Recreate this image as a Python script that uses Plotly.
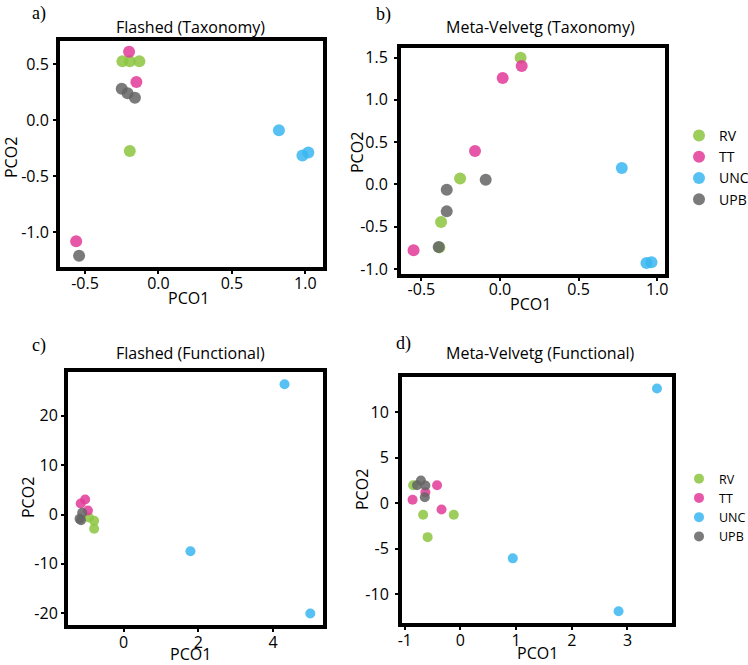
import plotly.graph_objects as go

W, H = 748, 665

groups = ["RV", "TT", "UNC", "UPB"]
colors = {"RV": "rgb(140,198,63)", "TT": "rgb(226,58,152)", "UNC": "rgb(56,182,240)", "UPB": "rgb(100,100,100)"}

# Panel a: Flashed (Taxonomy)
a_RV_x = [-0.245, -0.195, -0.13, -0.195]
a_RV_y = [0.525, 0.525, 0.525, -0.275]
a_TT_x = [-0.20, -0.15, -0.56]
a_TT_y = [0.61, 0.34, -1.08]
a_UNC_x = [0.82, 0.98, 1.02]
a_UNC_y = [-0.09, -0.315, -0.29]
a_UPB_x = [-0.25, -0.21, -0.16, -0.54]
a_UPB_y = [0.28, 0.24, 0.20, -1.21]

# Panel b: Meta-Velvetg (Taxonomy)
b_RV_x = [0.131, -0.254, -0.375, -0.386]
b_RV_y = [1.50, 0.071, -0.445, -0.745]
b_TT_x = [0.138, 0.017, -0.159, -0.55]
b_TT_y = [1.40, 1.26, 0.394, -0.78]
b_UNC_x = [0.775, 0.932, 0.964]
b_UNC_y = [0.193, -0.93, -0.92]
b_UPB_x = [-0.091, -0.339, -0.339, -0.39]
b_UPB_y = [0.055, -0.063, -0.319, -0.74]

# Panel c: Flashed (Functional)
c_RV_x = [-0.93, -0.79, -0.79]
c_RV_y = [-0.6, -1.28, -2.9]
c_TT_x = [-1.15, -1.03, -0.955]
c_TT_y = [2.23, 3.04, 0.81]
c_UNC_x = [4.31, 1.79, 5.0]
c_UNC_y = [26.4, -7.43, -20.07]
c_UPB_x = [-1.11, -1.18, -1.14]
c_UPB_y = [0.34, -0.88, -1.15]

# Panel d: Meta-Velvetg (Functional)
d_RV_x = [-0.85, -0.67, -0.12, -0.59]
d_RV_y = [1.98, -1.28, -1.28, -3.74]
d_TT_x = [-0.86, -0.42, -0.63, -0.34]
d_TT_y = [0.37, 1.98, 1.21, -0.70]
d_UNC_x = [3.53, 0.94, 2.84]
d_UNC_y = [12.64, -6.08, -11.9]
d_UPB_x = [-0.78, -0.71, -0.63, -0.64]
d_UPB_y = [1.98, 2.49, 1.94, 0.66]

titles = ["Flashed (Taxonomy)", "Meta-Velvetg (Taxonomy)", "Flashed (Functional)", "Meta-Velvetg (Functional)"]
letters = ["a)", "b)", "c)", "d)"]
x_title = "PCO1"
y_title = "PCO2"

tax_xticks = [-0.5, 0.0, 0.5, 1.0]
tax_xtext = ["-0.5", "0.0", "0.5", "1.0"]
a_yticks = [-1.0, -0.5, 0.0, 0.5]
a_ytext = ["-1.0", "-0.5", "0.0", "0.5"]
b_yticks = [-1.0, -0.5, 0.0, 0.5, 1.0, 1.5]
b_ytext = ["-1.0", "-0.5", "0.0", "0.5", "1.0", "1.5"]
c_xticks = [0, 2, 4]
c_xtext = ["0", "2", "4"]
c_yticks = [-20, -10, 0, 10, 20]
c_ytext = ["-20", "-10", "0", "10", "20"]
d_xticks = [-1, 0, 1, 2, 3]
d_xtext = ["-1", "0", "1", "2", "3"]
d_yticks = [-10, -5, 0, 5, 10]
d_ytext = ["-10", "-5", "0", "5", "10"]

data = {
    "a": {"RV": (a_RV_x, a_RV_y), "TT": (a_TT_x, a_TT_y), "UNC": (a_UNC_x, a_UNC_y), "UPB": (a_UPB_x, a_UPB_y)},
    "b": {"RV": (b_RV_x, b_RV_y), "TT": (b_TT_x, b_TT_y), "UNC": (b_UNC_x, b_UNC_y), "UPB": (b_UPB_x, b_UPB_y)},
    "c": {"RV": (c_RV_x, c_RV_y), "TT": (c_TT_x, c_TT_y), "UNC": (c_UNC_x, c_UNC_y), "UPB": (c_UPB_x, c_UPB_y)},
    "d": {"RV": (d_RV_x, d_RV_y), "TT": (d_TT_x, d_TT_y), "UNC": (d_UNC_x, d_UNC_y), "UPB": (d_UPB_x, d_UPB_y)},
}

FONT = "Open Sans"

# pixel boxes (left, right, top, bottom)
boxes = {
    "a": (60, 323, 41, 267),
    "b": (401, 665, 48, 274),
    "c": (68, 323, 372, 625),
    "d": (402, 672, 377, 623),
}
ranges = {
    "a": ([-0.67, 1.12], [-1.31, 0.705]),
    "b": ([-0.63, 1.05], [-1.06, 1.614]),
    "c": ([-1.49, 5.34], [-22.4, 28.9]),
    "d": ([-1.05, 3.80], [-13.2, 13.9]),
}
ticks = {
    "a": (tax_xticks, tax_xtext, a_yticks, a_ytext),
    "b": (tax_xticks, tax_xtext, b_yticks, b_ytext),
    "c": (c_xticks, c_xtext, c_yticks, c_ytext),
    "d": (d_xticks, d_xtext, d_yticks, d_ytext),
}
# text placement in pixels
title_pos = {"a": (190, 27), "b": (540, 27), "c": (190, 353), "d": (540, 353)}
letter_pos = {"a": (39, 14), "b": (383, 15), "c": (39, 345), "d": (403, 343)}
xtitle_pos = {"a": (188, 298), "b": (530, 304), "c": (190, 654), "d": (537, 653)}
ytitle_pos = {"a": (11, 158), "b": (357, 153), "c": (28, 497), "d": (362, 490)}
ystandoff = {"a": 1, "b": 3, "c": 0, "d": 3}
xstandoff = {"a": -4, "b": -5, "c": -3, "d": -3}

fig = go.Figure()
layout = {}
annotations = []
for i, p in enumerate(["a", "b", "c", "d"]):
    n = i + 1
    xa = "x" if n == 1 else f"x{n}"
    ya = "y" if n == 1 else f"y{n}"
    msize = 12 if p in ("a", "b") else 10
    for g in groups:
        xs, ys = data[p][g]
        show = p in ("b", "d")
        fig.add_trace(go.Scatter(
            x=xs, y=ys, mode="markers", name=g,
            marker=dict(color=colors[g], size=msize, opacity=0.85, line=dict(width=0)),
            xaxis=xa, yaxis=ya, showlegend=show,
            legend="legend" if p == "b" else ("legend2" if p == "d" else None),
        ))
    l, r, t, b = boxes[p]
    xr, yr = ranges[p]
    xt, xtt, yt, ytt = ticks[p]
    axkw = dict(showline=True, linewidth=4, linecolor="black", mirror=True,
                showgrid=False, zeroline=False, ticks="outside", ticklen=3,
                tickwidth=1.5, tickcolor="black",
                tickfont=dict(family=FONT, size=16, color="black"))
    layout["xaxis" if n == 1 else f"xaxis{n}"] = dict(
        domain=[l / W, r / W], range=xr, anchor=ya, tickvals=xt, ticktext=xtt,
        ticklabelstandoff=xstandoff[p], **axkw)
    layout["yaxis" if n == 1 else f"yaxis{n}"] = dict(
        domain=[1 - b / H, 1 - t / H], range=yr, anchor=xa, tickvals=yt, ticktext=ytt,
        ticklabelstandoff=ystandoff[p], **axkw)
    tx, ty = title_pos[p]
    annotations.append(dict(text=titles[i], x=tx / W, y=1 - ty / H, xref="paper", yref="paper",
                            xanchor="center", yanchor="middle", showarrow=False,
                            font=dict(family=FONT, size=16, color="black")))
    lx, ly = letter_pos[p]
    annotations.append(dict(text=letters[i], x=lx / W, y=1 - ly / H, xref="paper", yref="paper",
                            xanchor="center", yanchor="middle", showarrow=False,
                            font=dict(family="Liberation Serif", size=18, color="black")))
    px_, py_ = xtitle_pos[p]
    annotations.append(dict(text=x_title, x=px_ / W, y=1 - py_ / H, xref="paper", yref="paper",
                            xanchor="center", yanchor="middle", showarrow=False,
                            font=dict(family=FONT, size=16, color="black")))
    qx, qy = ytitle_pos[p]
    annotations.append(dict(text=y_title, x=qx / W, y=1 - qy / H, xref="paper", yref="paper",
                            xanchor="center", yanchor="middle", showarrow=False, textangle=-90,
                            font=dict(family=FONT, size=16, color="black")))

fig.update_layout(
    width=W, height=H, margin=dict(l=0, r=0, t=0, b=0, autoexpand=False),
    paper_bgcolor="white", plot_bgcolor="white",
    annotations=annotations,
    legend=dict(x=679 / W, y=1 - 120 / H, xanchor="left", yanchor="top",
                font=dict(family=FONT, size=14, color="black"), bgcolor="rgba(0,0,0,0)",
                itemwidth=30),
    legend2=dict(x=679 / W, y=1 - 464 / H, xanchor="left", yanchor="top",
                 font=dict(family=FONT, size=12.5, color="black"), bgcolor="rgba(0,0,0,0)",
                 itemwidth=30),
    **layout,
)

fig.write_html("out.html", config={"displayModeBar": False},
               post_script="document.body.style.margin='0px';")
